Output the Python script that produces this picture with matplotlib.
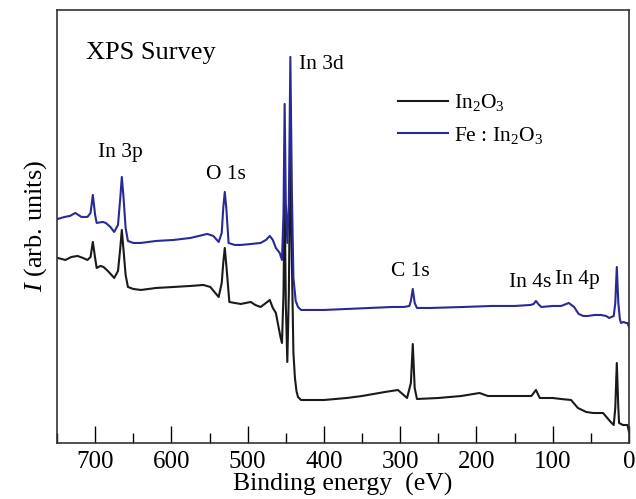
import matplotlib.pyplot as plt

plt.rcParams["font.family"] = "Liberation Serif"
plt.rcParams["mathtext.fontset"] = "custom"
plt.rcParams["mathtext.rm"] = "Liberation Serif"
plt.rcParams["mathtext.it"] = "Liberation Serif:italic"

# Fe:In2O3 spectrum (binding energy in eV, intensity in arb. units)
fe_energy = [749, 740, 733, 726, 718, 710, 706, 703, 700, 698, 690, 686, 680, 675,
             670, 667, 665, 663, 660, 657, 650, 640, 620, 597, 575, 553, 545, 538,
             534, 532, 530, 528, 525, 517, 509, 495, 483, 476, 471, 467, 463, 458,
             455, 453, 451.5, 450, 448, 446, 444, 442, 440, 437, 434, 430, 400, 370,
             340, 310, 295, 288, 286, 283.5, 281, 278, 260, 217, 180, 150, 129, 125,
             122, 119, 115, 100, 89, 79, 72, 66, 60, 54, 45, 37, 30, 26, 20, 18, 16,
             14, 12, 10.5, 7, 4, 2, 0]
fe_counts = [224, 226, 227, 230, 226, 226, 230, 248, 228, 220, 221, 220, 216, 211,
             218, 245, 266, 248, 215, 202, 200, 200, 202, 203, 205, 209, 207, 201,
             210, 235, 251, 235, 200, 198, 198, 199, 200, 203, 207, 203, 195, 190,
             183, 230, 339, 240, 200, 240, 386, 250, 165, 142, 136, 133, 133, 134,
             135, 136, 136, 137, 142, 154, 140, 135, 135, 136, 137, 137, 138, 139,
             142, 139, 136, 137, 137, 140, 136, 129, 127, 127, 128, 128, 127, 125, 127, 140, 176,
             140, 124, 120, 121, 120, 120, 116]

# In2O3 spectrum
in_energy = [749, 739, 731, 723, 716, 710, 706, 703, 700, 698, 693, 689, 682, 675,
             670, 667, 665, 663, 660, 657, 650, 640, 620, 597, 575, 558, 549, 538,
             534, 532, 530, 528, 524, 517, 509, 496, 490, 483, 476, 471, 467, 463,
             460, 457, 455, 453, 451.5, 450, 448, 446, 444, 442, 440, 438, 436, 434,
             430, 400, 370, 350, 320, 303, 291, 286, 283.5, 281, 278, 250, 220, 196,
             185, 150, 128, 122, 117, 100, 89, 76, 67, 56, 47, 34, 24, 20, 18, 16,
             14, 13, 8, 2, 0]
in_counts = [185, 183, 186, 187, 185, 183, 186, 201, 185, 175, 177, 176, 171, 165,
             172, 195, 213, 195, 168, 156, 154, 153, 155, 156, 157, 158, 156, 146,
             160, 180, 195, 178, 141, 140, 139, 141, 138, 136, 140, 143, 135, 130,
             118, 106, 100, 150, 250, 140, 81, 150, 300, 180, 90, 65, 52, 46,
             43, 43, 45, 47, 51, 53, 45, 60, 99, 55, 44, 45, 47, 50,
             47, 47, 47, 53, 45, 45, 44, 43, 35, 31, 30, 30, 21, 18, 35, 80,
             35, 20, 18, 18, 11]

peak_labels = ["In 3p", "O 1s", "In 3d", "C 1s", "In 4s", "In 4p"]
label_energy = [696, 555, 433, 312, 157.5, 97]
label_height = [290, 268, 378, 171, 160, 163]

fig = plt.figure(figsize=(6.36, 4.99), dpi=100)
ax = fig.add_axes([0.0896, 0.1122, 0.8994, 0.868])

ax.plot(in_energy, in_counts, color="#1a1a1a", lw=1.5, label=r"In$_2$O$_3$")
ax.plot(fe_energy, fe_counts, color="#2a2a96", lw=1.5, label=r"Fe : In$_2$O$_3$")

ax.set_xlim(750, 0)
ax.set_ylim(0, 433)
ax.set_xticks(range(0, 701, 100))
ax.set_xticks(range(0, 751, 50), minor=True)
ax.set_yticks([])
ax.tick_params(axis="x", which="major", direction="in", length=12, width=1,
               labelsize=18, pad=6)
ax.tick_params(axis="x", which="minor", direction="in", length=7, width=1)
for sp in ax.spines.values():
    sp.set_linewidth(1.2)
    sp.set_color("#333333")

ax.set_xlabel("Binding energy  (eV)", fontsize=18.5, labelpad=0)
ax.set_ylabel(r"$I$ (arb. units)", fontsize=19, labelpad=6)

ax.text(712, 390, "XPS Survey", fontsize=19, ha="left", va="center")
for name, e, h in zip(peak_labels, label_energy, label_height):
    ax.text(e, h, name, fontsize=15.5, ha="left", va="center")

ax.legend(loc="upper left", bbox_to_anchor=(0.5625, 0.855), frameon=False,
          fontsize=15.5, handlelength=2.3, handletextpad=0.3, labelspacing=0.55)

fig.savefig("out.png", dpi=100)
